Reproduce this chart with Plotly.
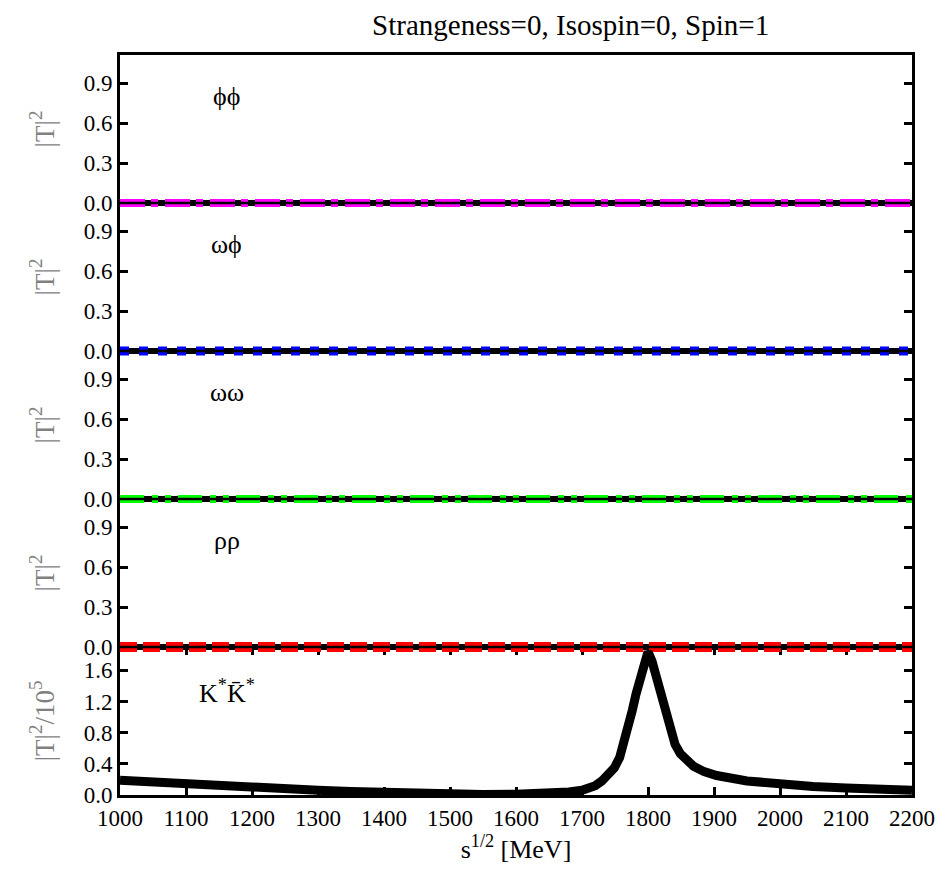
import plotly.graph_objects as go

# energies (MeV) and channel amplitudes |T|^2
sqrt_s = [1000, 1050, 1100, 1150, 1200, 1250, 1300, 1350, 1400, 1450, 1500,
          1550, 1600, 1650, 1680, 1700, 1710, 1720, 1730, 1740, 1749, 1757,
          1764, 1770, 1776, 1782, 1788, 1794, 1800, 1806, 1814, 1819, 1824,
          1829, 1834, 1841, 1849, 1858, 1869, 1885, 1904, 1950, 2000, 2050,
          2100, 2150, 2200]
kstar_kstar = [0.19, 0.165, 0.14, 0.115, 0.09, 0.075, 0.06, 0.045, 0.03, 0.02,
               0.01, 0.008, 0.01, 0.02, 0.04, 0.06, 0.08, 0.12, 0.18, 0.25,
               0.35, 0.48, 0.68, 0.86, 1.08, 1.30, 1.51, 1.70, 1.84, 1.72,
               1.47, 1.27, 1.08, 0.92, 0.79, 0.65, 0.53, 0.44, 0.37, 0.30,
               0.25, 0.18, 0.14, 0.11, 0.09, 0.075, 0.06]

flat_s = [1000, 1100, 1200, 1300, 1400, 1500, 1600, 1700, 1800, 1900, 2000, 2100, 2200]
phi_phi = [0.0, 0.0, 0.0, 0.0, 0.0, 0.0, 0.0, 0.0, 0.0, 0.0, 0.0, 0.0, 0.0]
omega_phi = [0.0, 0.0, 0.0, 0.0, 0.0, 0.0, 0.0, 0.0, 0.0, 0.0, 0.0, 0.0, 0.0]
omega_omega = [0.0, 0.0, 0.0, 0.0, 0.0, 0.0, 0.0, 0.0, 0.0, 0.0, 0.0, 0.0, 0.0]
rho_rho = [0.0, 0.0, 0.0, 0.0, 0.0, 0.0, 0.0, 0.0, 0.0, 0.0, 0.0, 0.0, 0.0]

panel_labels = ["ϕϕ", "ωϕ", "ωω", "ρρ", "K<sup>*</sup>K̄<sup>*</sup>"]
y_titles = ["|T|<sup>2</sup>"] * 4 + ["|T|<sup>2</sup>/10<sup>5</sup>"]
x_ticks = [1000, 1100, 1200, 1300, 1400, 1500, 1600, 1700, 1800, 1900, 2000, 2100, 2200]

FONT = "Liberation Serif"
X_RANGE = [1000, 2200]
Y_MAX = [1.11, 1.11, 1.11, 1.11, 1.9]
Y_TICKS = [[0, 0.3, 0.6, 0.9]] * 4 + [[0, 0.4, 0.8, 1.2, 1.6]]
domains = [[0.8, 1.0], [0.6, 0.8], [0.4, 0.6], [0.2, 0.4], [0.0, 0.2]]

series = [
    (flat_s, phi_phi, "#ff00ff", 8, "25px,6px,7px,7px"),
    (flat_s, omega_phi, "#0000ff", 9, "9px,10px"),
    (flat_s, omega_omega, "#00ff00", 8, "24px,8px,6px,7px,6px,7px"),
    (flat_s, rho_rho, "#ff0000", 10, "17px,6px"),
    (sqrt_s, kstar_kstar, "black", 9, "solid"),
]

fig = go.Figure()
layout = {}

axis_line = dict(showline=True, linecolor="black", linewidth=3,
                 showgrid=False, zeroline=False)

for i in range(5):
    n = i + 1
    sfx = "" if n == 1 else str(n)
    lo, hi = domains[i]
    # main panel axes
    xa = dict(axis_line, domain=[0, 1], range=X_RANGE, anchor="y" + sfx, mirror=True)
    if n == 5:
        xa.update(ticks="inside", mirror="ticks", ticklen=8, tickwidth=3,
                  tickcolor="black", tickvals=x_ticks,
                  tickfont=dict(family=FONT, size=23, color="black"),
                  title=dict(text="s<sup>1/2</sup> [MeV]", standoff=6,
                             font=dict(family=FONT, size=26, color="black")))
    else:
        xa.update(ticks="", showticklabels=False)
    ya = dict(axis_line, domain=[lo, hi], range=[0, Y_MAX[i]], anchor="x" + sfx,
              mirror="ticks", ticks="inside", ticklen=8, tickwidth=3,
              tickcolor="black", tickvals=Y_TICKS[i], tickformat=".1f",
              tickfont=dict(family=FONT, size=23, color="black"),
              title=dict(text=y_titles[i], standoff=22,
                         font=dict(family=FONT, size=27, color="#808080")))
    layout["xaxis" + sfx] = xa
    layout["yaxis" + sfx] = ya
    # empty trace so the panel itself gets drawn
    fig.add_trace(go.Scatter(x=[], y=[], xaxis="x" + sfx, yaxis="y" + sfx,
                             showlegend=False, hoverinfo="skip"))

    # overlay axes with a slightly taller domain so thick lines on the
    # panel edge are not clipped in half
    m = 5 + n
    ext_lo = 0.02 if lo > 0 else 0.0
    ext_hi = 0.02 if n == 5 else 0.0
    scale = Y_MAX[i] / (hi - lo)
    layout["xaxis%d" % m] = dict(domain=[0, 1], range=X_RANGE, anchor="y%d" % m,
                                visible=False)
    layout["yaxis%d" % m] = dict(domain=[lo - ext_lo, min(hi + ext_hi, 1.0)],
                                range=[-ext_lo * scale, Y_MAX[i] + ext_hi * scale],
                                anchor="x%d" % m, visible=False)

    xs, ys, color, width, dash = series[i]
    fig.add_trace(go.Scatter(x=xs, y=ys, mode="lines",
                             line=dict(color=color, width=width, dash=dash),
                             xaxis="x%d" % m, yaxis="y%d" % m,
                             showlegend=False, hoverinfo="skip"))

    # keep the black panel border visible on top of the coloured lines
    if n < 5:
        fig.add_shape(type="line", xref="paper", x0=0, x1=1,
                      yref="y%d" % m, y0=0, y1=0,
                      line=dict(color="black", width=2.5), layer="above")

    fig.add_annotation(text=panel_labels[i], xref="paper", yref="paper",
                       x=0.135, y=lo + (0.72 if n < 5 else 0.70) * (hi - lo),
                       showarrow=False, xanchor="center", yanchor="middle",
                       font=dict(family=FONT, size=26, color="black"))

# the page body adds an 8px offset, so the figure is 8px smaller each way
fig.update_layout(
    width=939, height=873,
    margin=dict(l=112, r=31, t=47, b=86),
    plot_bgcolor="rgba(0,0,0,0)", paper_bgcolor="white",
    showlegend=False,
    title=dict(text="Strangeness=0, Isospin=0, Spin=1", xref="paper", x=0.569,
               xanchor="center", y=0.981, yanchor="middle",
               font=dict(family=FONT, size=29, color="black")),
    **layout,
)

fig.write_html("out.html")
